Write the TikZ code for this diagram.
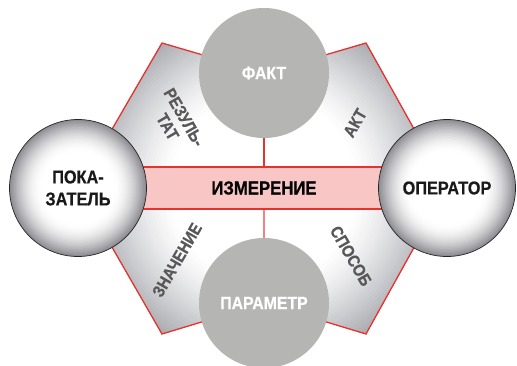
\documentclass[tikz,border=0pt]{standalone}
\usepackage{fontspec}
\setmainfont{Liberation Sans}[FakeStretch=0.88, BoldFeatures={FakeBold=0.5}]
\definecolor{hexred}{RGB}{232,50,46}
\definecolor{bandpink}{RGB}{248,198,196}
\definecolor{discgray}{RGB}{181,181,179}
\definecolor{labelgray}{RGB}{88,88,90}
\definecolor{shadegray}{RGB}{158,160,166}
\definecolor{ballgray}{RGB}{140,140,146}
\begin{document}
\begin{tikzpicture}[
  x=1pt, y=-1pt,
  disc/.style={circle, fill=discgray, minimum size=130pt, inner sep=0pt, text=white, font=\bfseries\fontsize{18}{20}\selectfont},
  ball/.style={circle, draw=black!85, line width=0.7pt, minimum size=137pt, inner sep=0pt, align=center, text=black!90, font=\bfseries\fontsize{18.5}{22}\selectfont},
  band/.style={draw=hexred, line width=1.3pt, fill=bandpink, minimum width=330pt, minimum height=42pt, font=\bfseries\fontsize{19}{22}\selectfont},
  tag/.style={text=labelgray, align=center, font=\bfseries\fontsize{17}{19}\selectfont},
  redline/.style={hexred, line width=1.3pt}
]
\useasboundingbox (0,0) rectangle (517,365);

\coordinate (ptop) at (264,73);
\coordinate (pbot) at (264,303);
\coordinate (pleft) at (78,188);
\coordinate (pright) at (447,188);
\coordinate (tl) at (162,43);
\coordinate (tr) at (366,43);
\coordinate (br) at (366,334);
\coordinate (bl) at (162,334);

\begin{scope}
  \clip (pleft) -- (tl) -- (ptop) -- (tr) -- (pright) -- (br) -- (pbot) -- (bl) -- cycle;
  \foreach \r in {200,197,...,92} {
    \pgfmathsetmacro\mix{min(100,100*((\r-92)/95)^1.3)}
    \fill[shadegray!\mix!white] (264,188) circle (\r);
  }
\end{scope}
\draw[redline] (pleft) -- (tl) -- (ptop) -- (tr) -- (pright) -- (br) -- (pbot) -- (bl) -- cycle;

\node[band] (izm) at (264,188) {ИЗМЕРЕНИЕ};
\node[disc] (fakt) at (ptop) {ФАКТ};
\node[disc] (param) at (pbot) {ПАРАМЕТР};

\draw[redline] (fakt) -- (izm);
\draw[redline, hexred!60] (izm) -- (param);

\foreach \c in {pleft,pright} {
  \foreach \r in {68.5,67,...,37} {
    \pgfmathsetmacro\mix{100*((\r-37)/31.5)^1.8}
    \fill[ballgray!\mix!white] (\c) circle (\r);
  }
}
\node[ball] (pokaz) at (pleft) {ПОКА-\\ЗАТЕЛЬ};
\node[ball] (oper) at (pright) {ОПЕРАТОР};

\node[tag, rotate=-60] (rez) at (176,122) {РЕЗУЛЬ-\\ТАТ};
\node[tag, rotate=60] (akt) at (355,123) {АКТ};
\node[tag, rotate=60] (znach) at (177,260) {ЗНАЧЕНИЕ};
\node[tag, rotate=-60] (sposob) at (351,256) {СПОСОБ};
\end{tikzpicture}
\end{document}
